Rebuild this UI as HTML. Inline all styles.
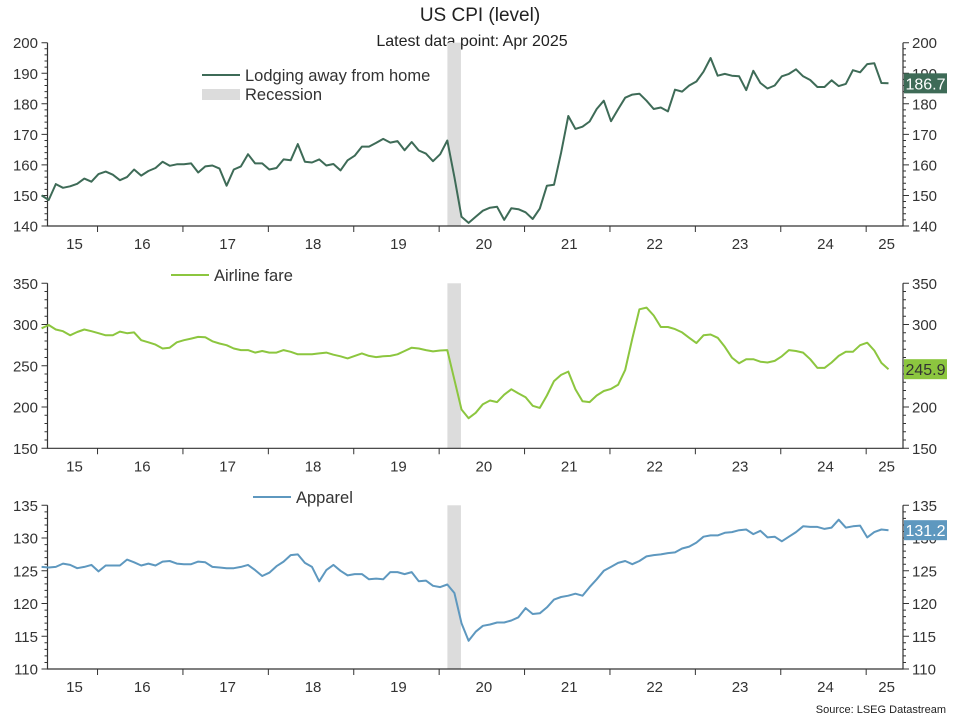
<!DOCTYPE html>
<html><head><meta charset="utf-8"><style>
body{margin:0;background:#fff;}
svg{display:block;font-family:"Liberation Sans",Arial,sans-serif;}
</style></head><body>
<svg id="c" width="960" height="720" viewBox="0 0 960 720">
<text x="480" y="21" text-anchor="middle" font-size="19" fill="#222">US CPI (level)</text>
<text x="472" y="46" text-anchor="middle" font-size="16" fill="#222">Latest data point: Apr 2025</text>
<text x="946" y="713" text-anchor="end" font-size="11" fill="#222">Source: LSEG Datastream</text>
</svg>
<script>
const years = ["15","16","17","18","19","20","21","22","23","24","25"];
const recession = [58, 60];
const lodging = [150,148.5,153.7,152.5,153,153.8,155.5,154.5,157,157.8,156.8,155,156,158.5,156.5,158,159,161,159.7,160.2,160.2,160.5,157.5,159.5,159.8,158.8,153.2,158.5,159.5,163.5,160.5,160.5,158.5,159,161.8,161.5,166.8,161,160.8,161.8,159.8,160.3,158.2,161.5,163,166,166,167.2,168.5,167.3,167.8,164.8,167.5,164.7,163.7,161.2,163.5,168,156,143,141,143,145,146,146.3,142,145.8,145.5,144.5,142.3,145.7,153.2,153.5,164,176,171.8,172.5,174.2,178.3,181,174.3,178.2,182,183,183.3,181,178.3,178.8,177.5,184.6,184,186,187.3,190.5,195,189.2,189.8,189.2,189,184.5,190.8,186.8,185,186,189,189.8,191.3,189,187.8,185.5,185.5,187.7,185.8,186.5,191,190.3,193,193.3,186.8,186.7];
const airline = [295.5,299.5,294,292,287,291,294,292,289.5,287,287,291.5,289.5,290.5,281,278.5,275.7,271,272,278.5,281,283,285,284.5,279.7,277,275,271,269,269,266,268,266,266,269,267,264,264,264,265,266,263.5,261.5,259,262,265,262,260.5,261.5,262,264,268,272,271,269,267.5,268.5,269,233,197,186.5,193,203.5,208,206,215,221.5,216.5,212,201.5,199,214,231.5,239,243,221.5,207,206,214,219.5,222,227,245,283,318.5,320.5,311,297,297,294.5,290.5,284,277.5,287,288,284,273,260,253,258,258,255,254,256,261.5,269,268,266,258,247.5,247.5,254,262,267,267,275,278,268.5,253.5,245.9];
const apparel = [125.6,125.5,125.6,126.1,125.9,125.4,125.6,125.9,124.9,125.8,125.8,125.8,126.7,126.3,125.8,126.1,125.8,126.4,126.5,126.1,126,126,126.4,126.3,125.6,125.5,125.4,125.4,125.6,125.9,125.1,124.2,124.7,125.7,126.4,127.4,127.5,126.2,125.6,123.4,125.1,125.9,125,124.3,124.5,124.5,123.7,123.8,123.7,124.8,124.8,124.5,124.8,123.4,123.5,122.7,122.5,122.9,121.6,117,114.3,115.7,116.6,116.8,117.1,117.1,117.4,117.9,119.3,118.4,118.5,119.4,120.6,121,121.2,121.5,121.2,122.5,123.7,125,125.6,126.2,126.5,126,126.5,127.2,127.4,127.5,127.7,127.8,128.4,128.7,129.3,130.2,130.4,130.4,130.8,130.9,131.2,131.3,130.6,131.1,130.1,130.2,129.5,130.2,130.9,131.8,131.7,131.7,131.4,131.6,132.8,131.6,131.8,131.9,130.1,130.9,131.3,131.2];
const lodgingTicks = [140,150,160,170,180,190,200];
const airlineTicks = [150,200,250,300,350];
const apparelTicks = [110,115,120,125,130,135];

const svg = document.getElementById('c');
const NS = 'http://www.w3.org/2000/svg';
const X0 = 41.6, DX = 7.117, AXL = 47.5, AXR = 903;
function xOf(i){ return X0 + DX * i; }
function mk(tag, attrs){ const e = document.createElementNS(NS, tag); for (const k in attrs) e.setAttribute(k, attrs[k]); svg.appendChild(e); return e; }

const panels = [
 {key:'lodging', data:lodging, ticks:lodgingTicks, top:42.7, bot:226, minor:2, color:'#3e6b57', lblText:'#fff', legend:'Lodging away from home', lx:202, ly:75, rec:true},
 {key:'airline', data:airline, ticks:airlineTicks, top:283.3, bot:448.3, minor:10, color:'#8cc63f', lblText:'#333', legend:'Airline fare', lx:171, ly:275},
 {key:'apparel', data:apparel, ticks:apparelTicks, top:505.3, bot:669, minor:1, color:'#5e98bf', lblText:'#fff', legend:'Apparel', lx:253, ly:497}
];

panels.forEach(p => {
  const mn = p.ticks[0], mx = p.ticks[p.ticks.length-1];
  const yOf = v => p.bot - (v - mn) / (mx - mn) * (p.bot - p.top);
  const rb = mk('rect', {x: xOf(recession[0]) - 7, y: p.top, width: (recession[1]-recession[0])*DX - 0.7, height: p.bot - p.top, fill: '#dcdcdc'});
  
  
  const ax = mk('path', {d: `M${AXL},${p.top}V${p.bot}H${AXR}V${p.top}`, fill: 'none', stroke: '#333', 'stroke-width': 1.2});
  
  
  let d = '';
  for (let v = mn; v <= mx + 1e-9; v += p.minor) {
    const y = yOf(v);
    const major = p.ticks.some(t => Math.abs(t - v) < 1e-9);
    const len = major ? 6 : 3;
    d += `M${AXL-len},${y}H${AXL}M${AXR},${y}H${AXR+len}`;
  }
  for (let k = 1; k < years.length; k++) {
    const x = xOf(8 + (k-1)*12) - 1;
    d += `M${x},${p.bot}V${p.bot+6}`;
  }
  const tk = mk('path', {d: d, stroke: '#333', 'stroke-width': 1});
  
  
  p.ticks.forEach(v => {
    const y = yOf(v) + 5.5;
    const l = mk('text', {x: 38, y: y, 'text-anchor': 'end', 'font-size': 15, fill: '#333'});
    l.textContent = v;
    
    
    const r = mk('text', {x: 912, y: y, 'font-size': 15, fill: '#333'});
    r.textContent = v;
    
    
  });
  years.forEach((yr, k) => {
    const a = k === 0 ? AXL : xOf(8 + (k-1)*12) - 1;
    const b = k === years.length - 1 ? AXR : xOf(8 + k*12) - 1;
    const t = mk('text', {x: (a+b)/2 + 2, y: p.bot + 23, 'text-anchor': 'middle', 'font-size': 15, fill: '#333'});
    t.textContent = yr;
    
    
  });
  const pts = p.data.map((v, i) => xOf(i).toFixed(1) + ',' + yOf(v).toFixed(1)).join(' ');
  const line = mk('polyline', {points: pts, fill: 'none', stroke: p.color, 'stroke-width': 2, 'stroke-linejoin': 'round'});
  
  
  const ll = mk('line', {x1: p.lx, y1: p.ly, x2: p.lx + 38, y2: p.ly, stroke: p.color, 'stroke-width': 2});
  
  
  const lt = mk('text', {x: p.lx + 43, y: p.ly + 6, 'font-size': 16.5, fill: '#333'});
  lt.textContent = p.legend;
  
  
  if (p.rec) {
    const rs = mk('rect', {x: p.lx, y: p.ly + 14, width: 38, height: 11, fill: '#dcdcdc'});
    
    
    const rt = mk('text', {x: p.lx + 43, y: p.ly + 25, 'font-size': 16.5, fill: '#333'});
    rt.textContent = 'Recession';
    
    
  }
  const last = p.data[p.data.length - 1];
  const ly = yOf(last);
  const bx = mk('rect', {x: 904, y: ly - 10, width: 43, height: 20, fill: p.color});
  
  
  const bt = mk('text', {x: 925.5, y: ly + 6, 'text-anchor': 'middle', 'font-size': 16, fill: p.lblText});
  bt.textContent = last.toFixed(1);
  
  
});
</script>
</body></html>
